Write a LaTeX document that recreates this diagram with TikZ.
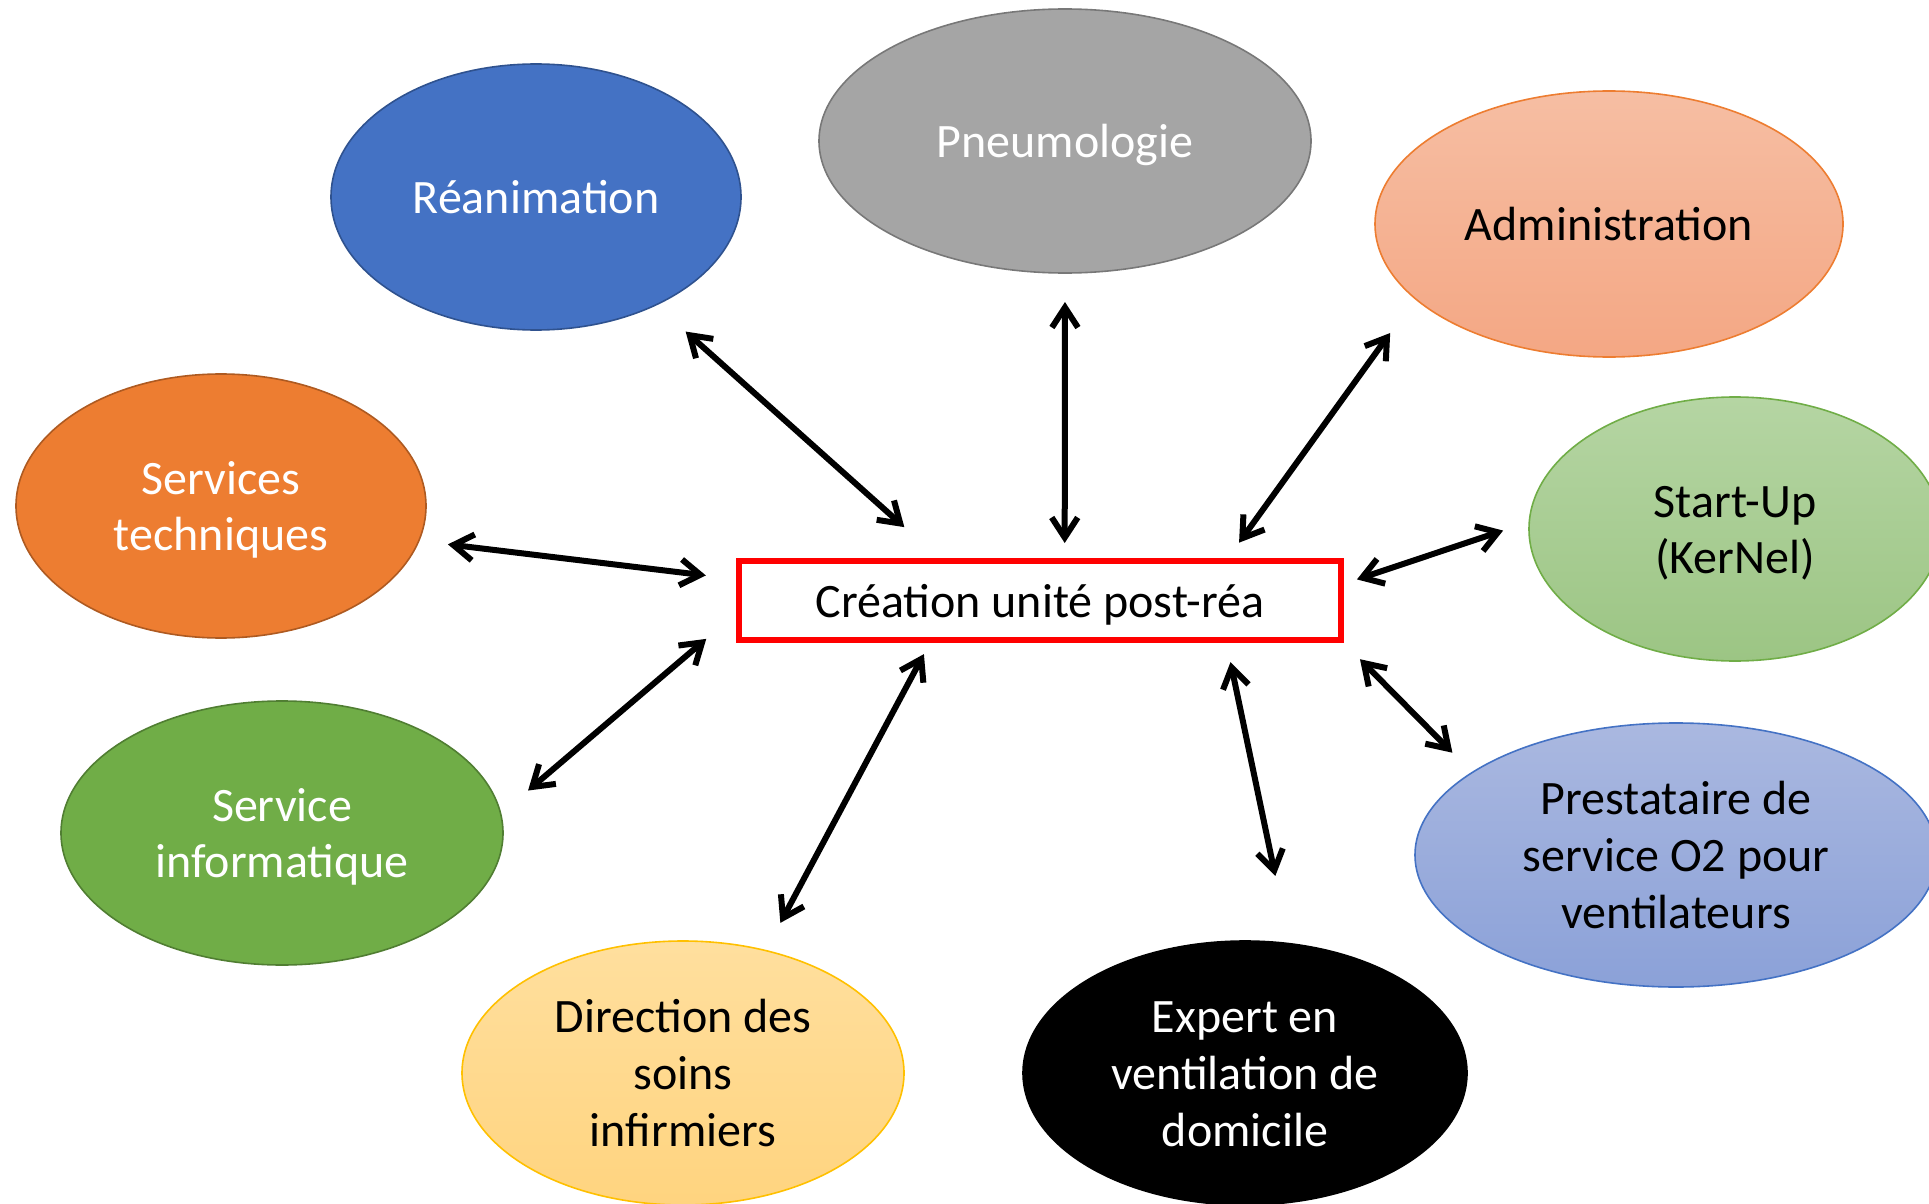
\documentclass[tikz,border=0pt]{standalone}
\usepackage{fontspec}
\setmainfont{Carlito}
\usepackage{tikz}
\usetikzlibrary{arrows.meta,shapes.geometric}

\definecolor{reablue}{HTML}{4472C4}
\definecolor{reaedge}{HTML}{2F528F}
\definecolor{pneugrey}{HTML}{A5A5A5}
\definecolor{pneuedge}{HTML}{787878}
\definecolor{tecorange}{HTML}{ED7D31}
\definecolor{tecedge}{HTML}{AE5A21}
\definecolor{infgreen}{HTML}{70AD47}
\definecolor{infedge}{HTML}{507E32}
\definecolor{admtop}{HTML}{F6BEA3}
\definecolor{admbot}{HTML}{F4A784}
\definecolor{starttop}{HTML}{B5D5A3}
\definecolor{startbot}{HTML}{9CC584}
\definecolor{prestop}{HTML}{AAB8E0}
\definecolor{presbot}{HTML}{8BA1D8}
\definecolor{dirtop}{HTML}{FFDF9E}
\definecolor{dirbot}{HTML}{FFD47F}
\definecolor{diredge}{HTML}{FFC000}

% struts: top of the first line, bottom of the last line
\newcommand{\topstrut}[1]{\rule{0pt}{\dimexpr22pt+28.3pt*\numexpr#1-1\relax\relax}}
\newcommand{\botstrut}{\rule[-5.5pt]{0pt}{5.5pt}}

\begin{document}
\begin{tikzpicture}[x=0.5pt,y=-0.5pt,
  txt/.style={font=\fontsize{24}{28.3}\selectfont,
    execute at begin node={\topstrut{#1}}, execute at end node=\botstrut},
  txt/.default=1,
  bubble/.style={txt=#1, ellipse, inner sep=0pt, outer sep=0pt, align=center, line width=0.8pt},
  bubble/.default=1,
  unitbox/.style={txt, rectangle, draw=red, line width=2.6pt, fill=white, inner sep=0pt, outer sep=0pt,
    minimum width=301pt, minimum height=39.5pt},
  link/.style={line width=3pt, line cap=round,
    {Straight Barb[length=10pt,width=13pt]}-{Straight Barb[length=10pt,width=13pt]}}]
\useasboundingbox (0,0) rectangle (1929,1204);

% centre
\node[unitbox] (box) at (1040,600.5) {Création unité post-réa};

% partenaires
\node[bubble, fill=reablue, draw=reaedge, text=white, minimum width=205pt, minimum height=133pt] (rea) at (536,197) {Réanimation};
\node[bubble, fill=pneugrey, draw=pneuedge, text=white, minimum width=246pt, minimum height=132pt] (pneu) at (1065,141) {Pneumologie};
\node[bubble, top color=admtop, bottom color=admbot, draw=tecorange, minimum width=234pt, minimum height=133pt] (adm) at (1609,224) {Administration};
\node[bubble=2, top color=starttop, bottom color=startbot, draw=infgreen, minimum width=206pt, minimum height=132pt] (start) at (1735,529) {Start-Up\\(KerNel)};
\node[bubble=2, fill=tecorange, draw=tecedge, text=white, minimum width=205pt, minimum height=132pt] (tec) at (221,506) {Services\\techniques};
\node[bubble=2, fill=infgreen, draw=infedge, text=white, minimum width=221pt, minimum height=132pt] (inf) at (282,833) {Service\\informatique};
\node[bubble=3, top color=dirtop, bottom color=dirbot, draw=diredge, minimum width=221pt, minimum height=132pt] (dir) at (683,1073) {Direction des\\soins\\infirmiers};
\node[bubble=3, fill=black, draw=black, text=white, minimum width=222pt, minimum height=132pt] (exp) at (1245,1073) {Expert en\\ventilation de\\domicile};
\node[bubble=3, top color=prestop, bottom color=presbot, draw=reablue, minimum width=261pt, minimum height=132pt] (pres) at (1676,855) {Prestataire de\\service O2 pour\\ventilateurs};

% liens
\draw[link, shorten <=25.4pt, shorten >=20pt] (box.158) -- (rea.-42);
\draw[link, shorten <=9pt, shorten >=14.5pt] (box.58) -- (pneu.south);
\draw[link, shorten <=11.3pt, shorten >=21.3pt] (box.12.7) -- (adm.201);
\draw[link, shorten <=8.4pt, shorten >=13.8pt] (box.3.9) -- (start.178);
\draw[link, shorten <=13.5pt, shorten >=14pt] (box.south east) -- (pres.158);
\draw[link, shorten <=11.3pt, shorten >=34.6pt] (box.-12.4) -- (exp.71);
\draw[link, shorten <=8pt, shorten >=15.7pt] (box.200.2) -- (dir.56);
\draw[link, shorten <=21.5pt, shorten >=18pt] (box.182.5) -- (inf.5.5);
\draw[link, shorten <=16.7pt, shorten >=14.7pt] (box.176.1) -- (tec.-10);

\end{tikzpicture}
\end{document}
